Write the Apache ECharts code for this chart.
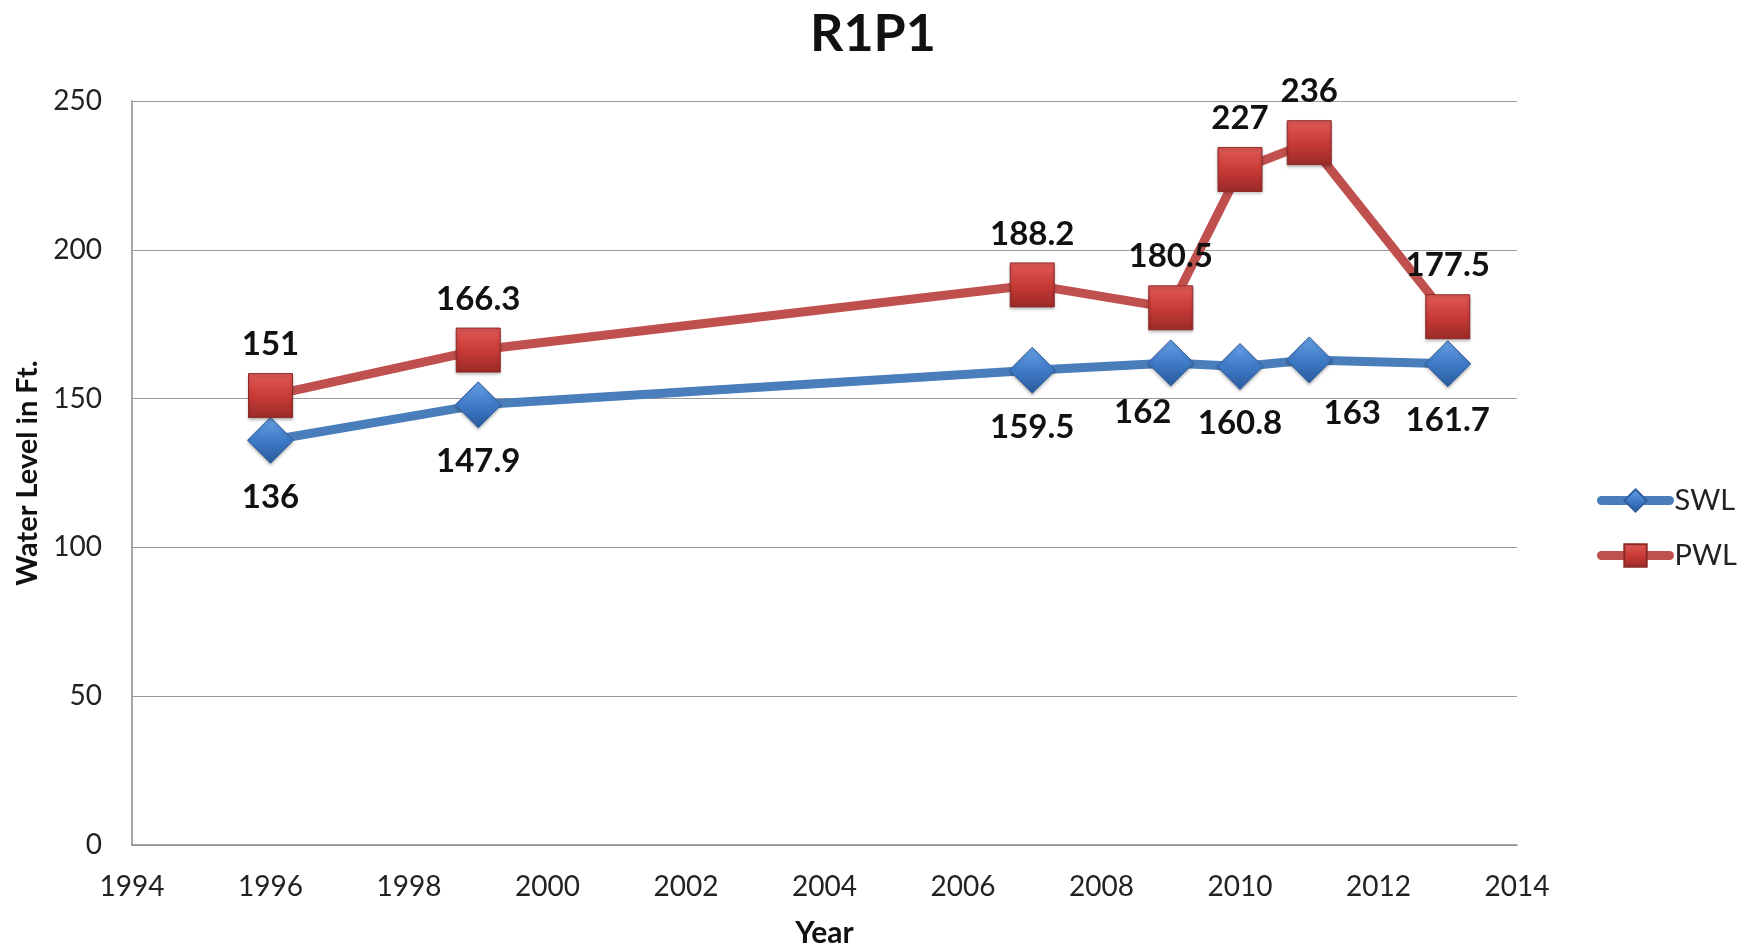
<!DOCTYPE html>
<html>
<head>
<meta charset="utf-8">
<script src="https://cdn.jsdelivr.net/npm/echarts@6/dist/echarts.min.js"></script>
<style>
  html, body { margin: 0; padding: 0; background: #ffffff; }
  #chart { width: 1746px; height: 944px; }
</style>
</head>
<body>
<div id="chart"></div>
<script>
// Well R1P1: static (SWL) and pumping (PWL) water levels by year
const years = [1996, 1999, 2007, 2009, 2010, 2011, 2013];
const swl = [136, 147.9, 159.5, 162, 160.8, 163, 161.7];
const pwl = [151, 166.3, 188.2, 180.5, 227, 236, 177.5];
const seriesNames = ['SWL', 'PWL'];

const FONT = 'Lato, "Open Sans", sans-serif';

// a few SWL labels are nudged sideways so they don't collide with neighbours
const swlLabelNudge = { 2009: [-28, -8], 2011: [43, -4] };

function bevel(top, mid, bottom) {
  return {
    type: 'linear', x: 0, y: 0, x2: 0, y2: 1,
    colorStops: [
      { offset: 0, color: top },
      { offset: 0.5, color: mid },
      { offset: 1, color: bottom }
    ]
  };
}

const swlData = years.map((y, i) => {
  const item = { value: [y, swl[i]] };
  if (swlLabelNudge[y]) item.label = { offset: swlLabelNudge[y] };
  return item;
});
const pwlData = years.map((y, i) => ({ value: [y, pwl[i]] }));

const labelStyle = {
  show: true,
  fontFamily: FONT,
  fontWeight: 'bold',
  fontSize: 33,
  color: '#111111',
  formatter: p => String(p.value[1])
};

const chart = echarts.init(document.getElementById('chart'), null, { renderer: 'canvas' });
chart.setOption({
  backgroundColor: '#ffffff',
  animation: false,
  title: {
    text: 'R1P1',
    left: 'center',
    top: 3,
    textStyle: { fontFamily: FONT, fontWeight: 'bold', fontSize: 52, color: '#111111' }
  },
  grid: { left: 132, right: 229, top: 101, bottom: 99, containLabel: false, outerBoundsMode: 'none' },
  legend: {
    orient: 'vertical',
    left: 1592,
    top: 481,
    itemWidth: 68,
    itemHeight: 28,
    itemGap: 26,
    lineStyle: { width: 9, cap: 'round' },
    textStyle: { fontFamily: FONT, fontSize: 29, color: '#222222', padding: [0, 0, 0, 0] },
    data: seriesNames
  },
  xAxis: {
    type: 'value',
    min: 1994,
    max: 2014,
    interval: 2,
    name: 'Year',
    nameLocation: 'middle',
    nameGap: 73,
    nameTextStyle: { fontFamily: FONT, fontWeight: 'bold', fontSize: 30, color: '#111111' },
    axisLine: { show: true, lineStyle: { color: '#8a8a8a', width: 1.5 } },
    axisTick: { show: false },
    splitLine: { show: false },
    axisLabel: { fontFamily: FONT, fontSize: 28, color: '#222222', margin: 28, formatter: v => String(v) }
  },
  yAxis: {
    type: 'value',
    min: 0,
    max: 250,
    interval: 50,
    name: 'Water Level in Ft.',
    nameLocation: 'middle',
    nameGap: 90,
    nameTextStyle: { fontFamily: FONT, fontWeight: 'bold', fontSize: 29, color: '#111111' },
    axisLine: { show: true, lineStyle: { color: '#8a8a8a', width: 1.5 } },
    axisTick: { show: false },
    splitLine: { show: true, lineStyle: { color: '#9a9a9a', width: 1.2 } },
    axisLabel: { fontFamily: FONT, fontSize: 28, color: '#222222', margin: 30 }
  },
  series: [
    {
      name: 'SWL',
      type: 'line',
      data: swlData,
      symbol: 'diamond',
      symbolSize: 46,
      lineStyle: { color: '#4a7ebb', width: 9 },
      itemStyle: {
        color: bevel('#6aa2e6', '#3f7bc9', '#2a5a9a'),
        borderColor: '#2f5f9c',
        borderWidth: 1,
        shadowColor: 'rgba(0,0,0,0.25)',
        shadowBlur: 3,
        shadowOffsetY: 2
      },
      label: Object.assign({}, labelStyle, { position: 'bottom', distance: 17 }),
      z: 2
    },
    {
      name: 'PWL',
      type: 'line',
      data: pwlData,
      symbol: 'rect',
      symbolSize: 44,
      lineStyle: { color: '#c0504d', width: 9 },
      itemStyle: {
        color: bevel('#e05a56', '#c93b37', '#9a2a27'),
        borderColor: '#8c2a28',
        borderWidth: 1,
        shadowColor: 'rgba(0,0,0,0.25)',
        shadowBlur: 3,
        shadowOffsetY: 2
      },
      label: Object.assign({}, labelStyle, { position: 'top', distance: 12 }),
      z: 3
    }
  ]
});
</script>
</body>
</html>
